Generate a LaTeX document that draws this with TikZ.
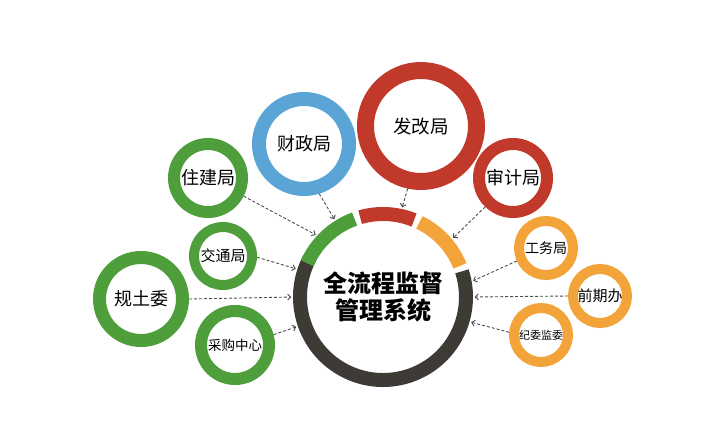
\documentclass[tikz,border=0pt]{standalone}
\usepackage{fontspec}
\newfontfamily\cjk{Noto Sans CJK SC}
\usepackage{xcolor}
\usetikzlibrary{arrows.meta, positioning}

\definecolor{ringgreen}{HTML}{4E9E3C}
\definecolor{ringblue}{HTML}{5BA5D6}
\definecolor{ringred}{HTML}{C0392B}
\definecolor{ringorange}{HTML}{F2A33A}
\definecolor{ringdark}{HTML}{3E3A36}

\begin{document}
\begin{tikzpicture}[x=1pt,y=1pt,
    dept/.style={circle, draw, inner sep=0pt, font=\cjk},
    feed/.style={line width=0.9pt, dash pattern=on 3pt off 2pt, draw=black!70,
                 -{Straight Barb[length=3pt,width=6pt]}, shorten >=1.5pt},
    seg/.style={line width=14pt}]

    \useasboundingbox (0,0) rectangle (708,434);

    % Central ring with the system name
    \node[circle, minimum size=180pt, inner sep=0pt, align=center,
          font=\cjk\bfseries\fontsize{24}{27}\selectfont] (hub) at (383,137) {全流程监督\\管理系统};
    \draw[seg, ringdark]   ([shift={(-208:83pt)}]hub.center) arc[start angle=-208, end angle=18, radius=83pt];
    \draw[seg, ringgreen]  ([shift={(156:83pt)}]hub.center) arc[start angle=156, end angle=110, radius=83pt];
    \draw[seg, ringred]    ([shift={(106:83pt)}]hub.center) arc[start angle=106, end angle=68, radius=83pt];
    \draw[seg, ringorange] ([shift={(64:83pt)}]hub.center) arc[start angle=64, end angle=22, radius=83pt];

    % Green departments on the left
    \node[dept, draw=ringgreen, line width=12pt, minimum size=68pt, font=\cjk\fontsize{18}{18}\selectfont] (zjj) at (208,256) {住建局};
    \node[dept, draw=ringgreen, line width=10pt, minimum size=58pt, font=\cjk\fontsize{15}{15}\selectfont] (jtj) at (223,178) {交通局};
    \node[dept, draw=ringgreen, line width=13pt, minimum size=83pt, font=\cjk\fontsize{18}{18}\selectfont] (gtw) at (141,135) {规土委};
    \node[dept, draw=ringgreen, line width=12pt, minimum size=68pt, font=\cjk\fontsize{13.5}{14}\selectfont] (cgzx) at (235,89) {采购中心};

    % Blue and red departments on top
    \node[dept, draw=ringblue, line width=14pt, minimum size=90pt, font=\cjk\fontsize{18}{18}\selectfont] (czj) at (304,290) {财政局};
    \node[dept, draw=ringred, line width=17pt, minimum size=111pt, font=\cjk\fontsize{18.5}{19}\selectfont] (fgj) at (421,308) {发改局};
    \node[dept, draw=ringred, line width=12pt, minimum size=68pt, font=\cjk\fontsize{18}{18}\selectfont] (sjj) at (513,256) {审计局};

    % Orange departments on the right
    \node[dept, draw=ringorange, line width=10pt, minimum size=54pt, font=\cjk\fontsize{14}{14}\selectfont] (gwj) at (546,186) {工务局};
    \node[dept, draw=ringorange, line width=10pt, minimum size=54pt, font=\cjk\fontsize{15}{15}\selectfont] (qqb) at (600,138) {前期办};
    \node[dept, draw=ringorange, line width=10pt, minimum size=54pt, font=\cjk\fontsize{11}{11}\selectfont] (jwjw) at (541,99) {纪委监委};

    % Dashed feeds into the ring
    \draw[feed] (zjj.-27) -- (hub.137);
    \draw[feed] (czj.-73) -- (hub.122);
    \draw[feed] (fgj.-102) -- (hub.78);
    \draw[feed] (sjj.-134) -- (hub.40);
    \draw[feed] (jtj.-2) -- (hub.162);
    \draw[feed] (gtw.0) -- (hub.180);
    \draw[feed] (cgzx.15) -- (hub.199);
    \draw[feed] (gwj.204) -- (hub.10);
    \draw[feed] (qqb.180) -- (hub.0);
    \draw[feed] (jwjw.175) -- (hub.-16);

\end{tikzpicture}
\end{document}
